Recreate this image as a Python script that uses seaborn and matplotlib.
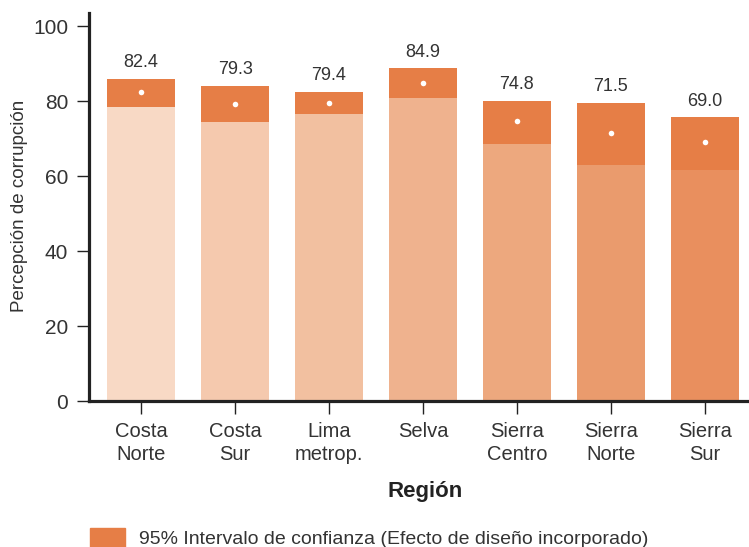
import matplotlib
matplotlib.use("Agg")
import matplotlib.pyplot as plt
import seaborn as sns
from matplotlib.patches import Patch

sns.set_style("white")
plt.rcParams['font.family'] = ['Liberation Sans Narrow', 'Liberation Sans', 'DejaVu Sans']
plt.rcParams['font.stretch'] = 'condensed'

# datos: percepcion de corrupcion por region
regiones = ["Costa\nNorte", "Costa\nSur", "Lima\nmetrop.", "Selva",
            "Sierra\nCentro", "Sierra\nNorte", "Sierra\nSur"]
media = [82.4, 79.3, 79.4, 84.9, 74.8, 71.5, 69.0]
ic_inf = [78.4, 74.4, 76.5, 80.8, 68.5, 62.9, 61.6]
ic_sup = [85.9, 84.0, 82.4, 88.8, 80.0, 79.5, 75.7]

colores_base = ["#F8D9C5", "#F5C9AE", "#F2C0A0", "#EFB28E",
                "#EDA87E", "#EA9B6D", "#E98F5E"]
color_ic = "#E67E46"
gris = "#333333"

fig = plt.figure(figsize=(7.49, 5.47), dpi=100)
ax = fig.add_axes([0.1188, 0.2669, 0.8812, 0.7093])

# barra completa hasta el limite superior (color del intervalo)
sns.barplot(x=regiones, y=ic_sup, color=color_ic, saturation=1, width=0.73,
            linewidth=0, ax=ax)
# parte inferior hasta el limite inferior
sns.barplot(x=regiones, y=ic_inf, hue=regiones, palette=colores_base,
            saturation=1, width=0.73, linewidth=0, legend=False, ax=ax)
# punto blanco en la media
sns.stripplot(x=regiones, y=media, jitter=False, color="white", size=4,
              linewidth=0, zorder=5, ax=ax)

for i, v in enumerate(media):
    ax.text(i, ic_sup[i] + 4.3, f"{v:.1f}", ha="center", va="center",
            fontsize=13, color=gris)

ax.set_ylim(0, 103.5)
ax.set_xlim(-0.555, 6.47)
ax.set_yticks([0, 20, 40, 60, 80, 100])

for s in ["top", "right"]:
    ax.spines[s].set_visible(False)
for s in ["left", "bottom"]:
    ax.spines[s].set_linewidth(2.3)
    ax.spines[s].set_color("#222222")

ax.tick_params(axis="both", direction="out", length=9, width=1, color="#222222",
               labelsize=15, labelcolor=gris, left=True, bottom=True)
ax.tick_params(axis="y", pad=6)
ax.tick_params(axis="x", labelsize=14.5, pad=6)
for lbl in ax.get_xticklabels():
    lbl.set_linespacing(1.3)

ax.set_ylabel("Percepción de corrupción", fontsize=13.5, color=gris)
ax.yaxis.set_label_coords(-0.092, 0.503)
ax.set_xlabel("Región", fontsize=16, fontweight="bold", color="#222222")
ax.xaxis.set_label_coords(0.509, -0.205)

fig.legend(handles=[Patch(color=color_ic)],
           labels=["95% Intervalo de confianza (Efecto de diseño incorporado)"],
           loc="lower left", bbox_to_anchor=(0.097, -0.034), frameon=False,
           fontsize=14, handlelength=1.8, handleheight=1.15, handletextpad=0.7,
           labelcolor=gris)

fig.savefig("out.png", dpi=100)
